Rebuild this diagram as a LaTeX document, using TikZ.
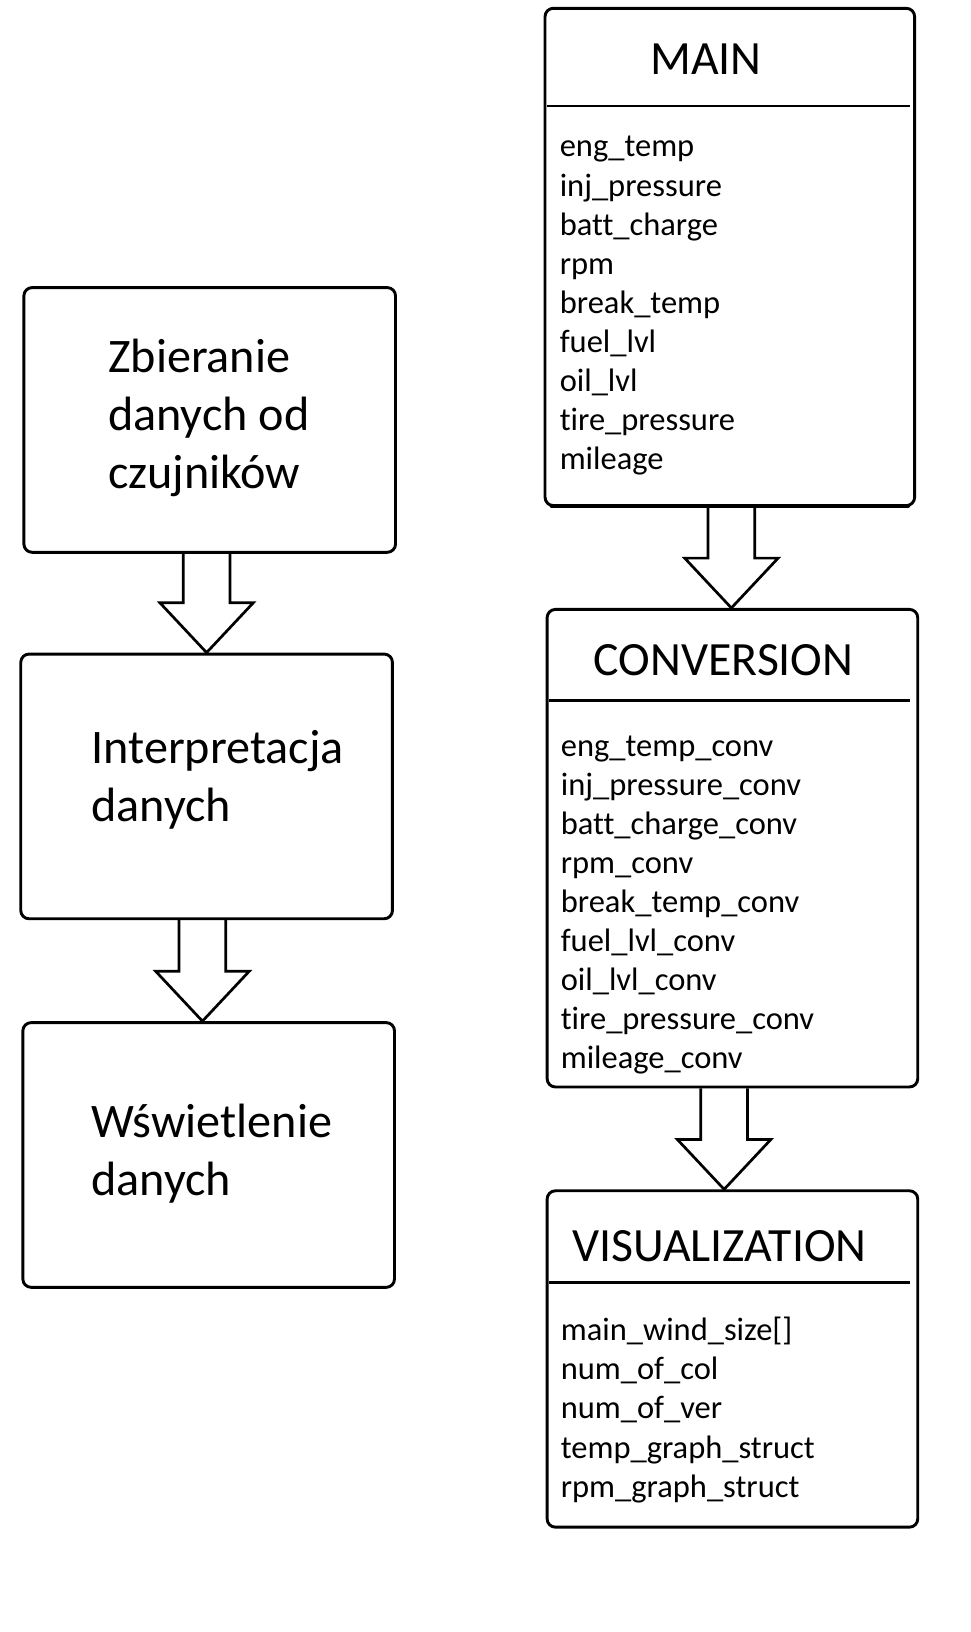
\documentclass[tikz,border=0pt]{standalone}
\usepackage{fontspec}
\setmainfont{Carlito}[Ligatures=NoCommon]
\usetikzlibrary{calc}
\tikzset{
  box/.style={draw, line width=2.8pt, rounded corners=8pt, inner sep=0pt},
  arr/.style={draw, line width=2.6pt, line join=miter},
  sepline/.style={line width=2.6pt},
  bigtext/.style={anchor=base west, inner sep=0pt, align=left, font=\fontsize{46.4}{56}\selectfont},
  title/.style={anchor=base, inner sep=0pt, font=\fontsize{46}{56}\selectfont},
  items/.style={anchor=base west, inner sep=0pt, align=left, font=\fontsize{31.3}{37.6}\selectfont},
}
\newcommand\barrow[3]{%
  \coordinate (sL) at ($(#1.south)+(#3-22.5,0)$);
  \coordinate (sR) at ($(#1.south)+(#3+22.5,0)$);
  \coordinate (hh) at ($(#2.north)+(0,-48)$);
  \coordinate (hL) at ($(#1.south)+(#3-45,0)$);
  \coordinate (hR) at ($(#1.south)+(#3+45,0)$);
  \coordinate (tp) at ($(#1.south)+(#3,0)$);
  \draw[arr] (sL) -- (sL |- hh) -- (hL |- hh) -- (tp |- #2.north) -- (hR |- hh) -- (sR |- hh) -- (sR);
}
\begin{document}
\begin{tikzpicture}[x=1pt, y=-1pt]
\fill[white] (0,0) rectangle (934.4,1572);
\useasboundingbox (0,0) rectangle (934.4,1572);

% left column
\node[box, minimum width=358pt, minimum height=255pt] (b1) at (202,404.5) {};
\node[box, minimum width=358pt, minimum height=255pt] (b2) at (199,757.5) {};
\node[box, minimum width=358pt, minimum height=255pt] (b3) at (201,1112.5) {};
\node[bigtext] (t1) at (104,471) {Zbieranie\\danych od\\czujników};
\node[bigtext] (t2) at (88,791) {Interpretacja\\danych};
\node[bigtext] (t3) at (88,1152) {Wświetlenie\\danych};
\barrow{b1}{b2}{-3}
\barrow{b2}{b3}{-4}

% right column
\node[box, minimum width=356pt, minimum height=479pt] (m) at (703,247.5) {};
\draw[line width=4.5pt, line cap=round] ($(m.south west)+(8,-1)$) -- ($(m.south east)+(-8,-1)$);
\draw[sepline] (527,102) -- (877,102);
\node[title] (mt) at (680,72) {MAIN};
\node[items] (ml) at (539,452) {eng\_temp\\inj\_pressure\\batt\_charge\\rpm\\break\_temp\\fuel\_lvl\\oil\_lvl\\tire\_pressure\\mileage};

\node[box, minimum width=357pt, minimum height=460pt] (c) at (705.5,817) {};
\draw[sepline] (529,675) -- (877,675);
\node[title] (ct) at (697,651) {CONVERSION};
\node[items] (cl) at (540,1029) {eng\_temp\_conv\\inj\_pressure\_conv\\batt\_charge\_conv\\rpm\_conv\\break\_temp\_conv\\fuel\_lvl\_conv\\oil\_lvl\_conv\\tire\_pressure\_conv\\mileage\_conv};

\node[box, minimum width=357pt, minimum height=324pt] (v) at (705.5,1309) {};
\draw[sepline] (529,1235) -- (877,1235);
\node[title] (vt) at (693,1215) {VISUALIZATION};
\node[items] (vl) at (540,1442) {main\_wind\_size[]\\num\_of\_col\\num\_of\_ver\\temp\_graph\_struct\\rpm\_graph\_struct};

\barrow{m}{c}{1.5}
\barrow{c}{v}{-8}
\end{tikzpicture}
\end{document}
